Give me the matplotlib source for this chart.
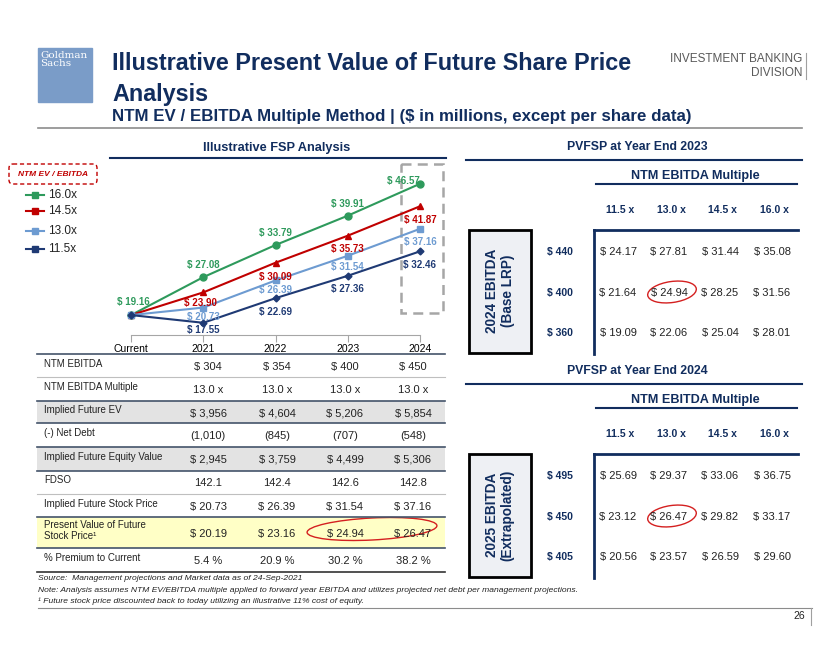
import matplotlib
matplotlib.use("Agg")
import matplotlib.pyplot as plt
from matplotlib.patches import Rectangle, Ellipse, FancyBboxPatch

plt.rcParams['font.family'] = ['Liberation Sans', 'DejaVu Sans']

NAVY = "#112D5E"
GREEN = "#2E9A5C"
RED = "#C00000"
LBLUE = "#6D9BD1"
DBLUE = "#1F3A74"
GRAY = "#595959"

# ---- data ----
years = ["Current", "2021", "2022", "2023", "2024"]
multiples = ["16.0x", "14.5x", "13.0x", "11.5x"]
fsp_16 = [19.16, 27.08, 33.79, 39.91, 46.57]
fsp_145 = [19.16, 23.90, 30.09, 35.73, 41.87]
fsp_13 = [19.16, 20.73, 26.39, 31.54, 37.16]
fsp_115 = [19.16, 17.55, 22.69, 27.36, 32.46]

row_labels = ["NTM EBITDA", "NTM EBITDA Multiple", "Implied Future EV", "(-) Net Debt",
              "Implied Future Equity Value", "FDSO", "Implied Future Stock Price",
              "Present Value of Future\nStock Price\u00b9", "% Premium to Current"]
ntm_ebitda = ["$ 304", "$ 354", "$ 400", "$ 450"]
ntm_mult = ["13.0 x", "13.0 x", "13.0 x", "13.0 x"]
future_ev = ["$ 3,956", "$ 4,604", "$ 5,206", "$ 5,854"]
net_debt = ["(1,010)", "(845)", "(707)", "(548)"]
equity_val = ["$ 2,945", "$ 3,759", "$ 4,499", "$ 5,306"]
fdso = ["142.1", "142.4", "142.6", "142.8"]
stock_price = ["$ 20.73", "$ 26.39", "$ 31.54", "$ 37.16"]
pv_price = ["$ 20.19", "$ 23.16", "$ 24.94", "$ 26.47"]
premium = ["5.4 %", "20.9 %", "30.2 %", "38.2 %"]

sens_cols = ["11.5 x", "13.0 x", "14.5 x", "16.0 x"]
ebitda_2024 = ["$ 440", "$ 400", "$ 360"]
pv_2023 = [[24.17, 27.81, 31.44, 35.08],
           [21.64, 24.94, 28.25, 31.56],
           [19.09, 22.06, 25.04, 28.01]]
ebitda_2025 = ["$ 495", "$ 450", "$ 405"]
pv_2024 = [[25.69, 29.37, 33.06, 36.75],
           [23.12, 26.47, 29.82, 33.17],
           [20.56, 23.57, 26.59, 29.60]]

fig = plt.figure(figsize=(8.4, 6.49), dpi=100)
bg = fig.add_axes([0, 0, 1, 1])
bg.set_xlim(0, 840)
bg.set_ylim(649, 0)
bg.axis("off")

# header
bg.add_patch(Rectangle((38, 48), 54, 54, color="#7A9CC8"))
bg.text(40, 51, "Goldman\nSachs", color="white", fontsize=7.5, family="DejaVu Serif",
        va="top", ha="left", linespacing=0.85)
bg.text(112, 63, "Illustrative Present Value of Future Share Price", color=NAVY, fontsize=16.8,
        fontweight="bold", va="center")
bg.text(112, 94, "Analysis", color=NAVY, fontsize=16.8, fontweight="bold", va="center")
bg.text(112, 116, "NTM EV / EBITDA Multiple Method | ($ in millions, except per share data)", color=NAVY,
        fontsize=12.2, fontweight="bold", va="center")
bg.text(802, 59, "INVESTMENT BANKING", color=GRAY, fontsize=8.5, ha="right", va="center")
bg.text(802, 73, "DIVISION", color=GRAY, fontsize=8.5, ha="right", va="center")
bg.plot([806, 806], [53, 79], color="#A0A0A0", lw=0.8)
bg.plot([38, 802], [128, 128], color="#8C8C8C", lw=1.2)

# section titles
bg.text(277, 148, "Illustrative FSP Analysis", color=NAVY, fontsize=9.2, fontweight="bold", ha="center", va="center")
bg.plot([110, 446], [158, 158], color=NAVY, lw=1.5)

# legend
bg.add_patch(FancyBboxPatch((9, 164), 88, 20, boxstyle="round,pad=0,rounding_size=4",
                            fill=False, ec=RED, ls=(0, (3, 2)), lw=1))
bg.text(53, 174, "NTM EV / EBITDA", color=RED, fontsize=6, fontweight="bold", style="italic",
        ha="center", va="center")
for name, col, yy in zip(multiples, [GREEN, RED, LBLUE, DBLUE], [195, 211, 231, 249]):
    bg.plot([26, 44], [yy, yy], color=col, lw=1.5)
    bg.plot([35], [yy], marker="s", ms=5, color=col)
    bg.text(48, yy, name, fontsize=8.5, va="center", color="#222222")

# line chart
ax = fig.add_axes([95 / 840, 1 - 335 / 649, 361 / 840, 170 / 649])
ax.set_xlim(-0.5, 4.5)
ax.set_ylim(15, 50.5)
ax.patch.set_alpha(0)
for s in ["top", "left", "right"]:
    ax.spines[s].set_visible(False)
ax.spines["bottom"].set_color("#A6A6A6")
ax.spines["bottom"].set_bounds(0, 4)
ax.set_yticks([])
ax.set_xticks(range(5))
ax.set_xticklabels(years, fontsize=7.5)
ax.tick_params(axis="x", color="#A6A6A6", length=5, pad=1.5)

x = list(range(5))
series = [(fsp_16, GREEN, "o", 5, [(2, 13), (0, 12), (0, 12), (0, 12), (-17, 3)]),
          (fsp_145, RED, "^", 5, [(0, 0), (-3, -11), (0, -14), (0, -13.5), (0, -14)]),
          (fsp_13, LBLUE, "s", 5, [(0, 0), (0, -9), (0, -10), (0, -11), (0, -13.5)]),
          (fsp_115, DBLUE, "D", 3.5, [(0, 0), (0, -7.5), (0, -14), (0, -13.5), (0, -13.5)])]
for vals, col, mk, ms, offs in series:
    ax.plot(x, vals, color=col, lw=1.5, marker=mk, ms=ms, clip_on=False)
    for i, (v, off) in enumerate(zip(vals, offs)):
        if i == 0 and col != GREEN:
            continue
        ax.annotate("$ %.2f" % v, (i, v), xytext=off, textcoords="offset pixels",
                    ha="center", va="center", fontsize=7, fontweight="bold", color=col)

# dashed box around 2024
bg.add_patch(Rectangle((401, 164), 42, 149, fill=False, ec="#A6A6A6", lw=1.8, ls=(0, (4, 2.5))))

# table below chart
col_x = [208, 277, 345, 413]
row_edges = [354, 377.3, 400.7, 423.3, 447.3, 470.7, 494, 517.3, 548.3, 571.7]
row_data = [ntm_ebitda, ntm_mult, future_ev, net_debt, equity_val, fdso, stock_price, pv_price, premium]
fills = {2: "#E3E3E3", 4: "#E3E3E3", 7: "#FFFFC6"}
for i, (lab, vals) in enumerate(zip(row_labels, row_data)):
    top, bot = row_edges[i], row_edges[i + 1]
    if i in fills:
        bg.add_patch(Rectangle((37, top), 408, bot - top, color=fills[i], lw=0))
    mid = (top + bot) / 2
    bg.text(44, mid - 2, lab, fontsize=7, va="center", ha="left", color="#222222", linespacing=1.1)
    for cx, v in zip(col_x, vals):
        bg.text(cx, mid + 1, v, fontsize=8, va="center", ha="center", color="#222222")
line_cols = ["#44546A", "#BFBFBF", "#44546A", "#44546A", "#44546A", "#44546A", "#BFBFBF", "#44546A", "#44546A", "#333333"]
for e, c in zip(row_edges, line_cols):
    bg.plot([37, 445], [e, e], color=c, lw=1.2 if c != "#BFBFBF" else 0.8)
bg.add_patch(Ellipse((372, 529), 130, 22, angle=-3, fill=False, ec="#D42020", lw=1))

# footnotes
bg.text(38, 578, "Source:  Management projections and Market data as of 24-Sep-2021", fontsize=6.1,
        style="italic", va="center", color="#222222")
bg.text(38, 590, "Note: Analysis assumes NTM EV/EBITDA multiple applied to forward year EBITDA and utilizes "
        "projected net debt per management projections.", fontsize=6.1, style="italic", va="center", color="#222222")
bg.text(38, 601, "\u00b9 Future stock price discounted back to today utilizing an illustrative 11% cost of equity.",
        fontsize=6.1, style="italic", va="center", color="#222222")
bg.plot([38, 812], [608, 608], color="#8C8C8C", lw=0.8)
bg.text(805, 616, "26", fontsize=7.5, ha="right", va="center", color="#222222")
bg.plot([811, 811], [608, 625], color="#A0A0A0", lw=0.8)

# sensitivity tables
cell_x = [618, 669, 720, 772]


def sens_table(y0, title, side, row_vals, grid, circ_row):
    bg.text(637, y0, title, color=NAVY, fontsize=8.8, fontweight="bold", ha="center", va="center")
    bg.plot([466, 802], [y0 + 12.5, y0 + 12.5], color=NAVY, lw=1.5)
    bg.text(695, y0 + 29, "NTM EBITDA Multiple", color=NAVY, fontsize=9.1, fontweight="bold",
            ha="center", va="center")
    bg.plot([596, 797], [y0 + 36.5, y0 + 36.5], color=NAVY, lw=1.5)
    for cx, c in zip(cell_x, sens_cols):
        bg.text(cx + 2, y0 + 63, c, color=NAVY, fontsize=7.5, fontweight="bold", ha="center", va="center")
    top = y0 + 83
    bg.add_patch(Rectangle((469, top), 62, 123, fc="#EEF0F4", ec="black", lw=2))
    bg.text(500, top + 61, side, rotation=90, color=NAVY, fontsize=9.8, fontweight="bold",
            ha="center", va="center", linespacing=1.1)
    bg.plot([594, 798], [top, top], color=NAVY, lw=2)
    bg.plot([594, 594], [top, top + 124], color=NAVY, lw=2)
    ys = [top + 22, top + 63, top + 103]
    for ry, lab, vals in zip(ys, row_vals, grid):
        bg.text(560, ry, lab, color=NAVY, fontsize=7.5, fontweight="bold", ha="center", va="center")
        for cx, v in zip(cell_x, vals):
            bg.text(cx, ry, "$ %.2f" % v, fontsize=8, ha="center", va="center", color="#222222")
    bg.add_patch(Ellipse((672, ys[circ_row] - 1), 49, 21, angle=-8, fill=False, ec="#D42020", lw=1))


sens_table(147, "PVFSP at Year End 2023", "2024 EBITDA\n(Base LRP)", ebitda_2024, pv_2023, 1)
sens_table(371, "PVFSP at Year End 2024", "2025 EBITDA\n(Extrapolated)", ebitda_2025, pv_2024, 1)

fig.savefig("out.png", dpi=100)
